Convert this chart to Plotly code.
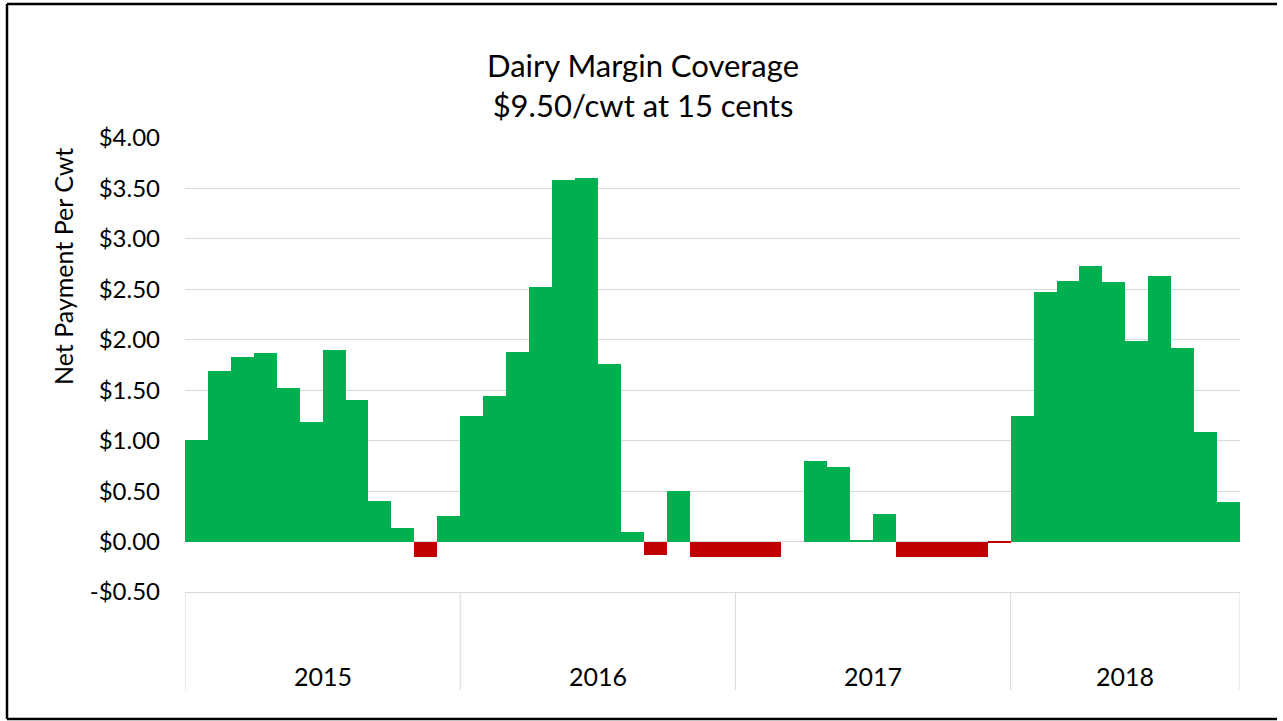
import plotly.graph_objects as go

# ---- data ----
years = ["2015", "2016", "2017", "2018"]
months_per_year = [12, 12, 12, 10]
net_payment = [
    1.01, 1.69, 1.83, 1.87, 1.52, 1.19, 1.90, 1.40, 0.40, 0.13, -0.15, 0.25,   # 2015
    1.24, 1.44, 1.88, 2.52, 3.58, 3.60, 1.76, 0.09, -0.13, 0.50, -0.15, -0.15,  # 2016
    -0.15, -0.15, 0.00, 0.80, 0.74, 0.02, 0.27, -0.15, -0.15, -0.15, -0.15, -0.01,  # 2017
    1.24, 2.47, 2.58, 2.73, 2.57, 1.99, 2.63, 1.92, 1.09, 0.39,  # 2018
]
y_tickvals = [-0.5, 0.0, 0.5, 1.0, 1.5, 2.0, 2.5, 3.0, 3.5, 4.0]
y_ticktext = ["-$0.50", "$0.00", "$0.50", "$1.00", "$1.50", "$2.00",
              "$2.50", "$3.00", "$3.50", "$4.00"]

# ---- style ----
GREEN = "#00B050"
RED = "#C00000"
FONT = "Lato, 'Noto Sans', sans-serif"
W, H = 1283, 721
L, R, T, B = 185, 43, 138, 129
plot_w = W - L - R
plot_h = H - T - B

x_idx = list(range(len(net_payment)))
colors = [GREEN if v >= 0 else RED for v in net_payment]

fig = go.Figure()
fig.add_trace(go.Bar(
    x=x_idx, y=net_payment, width=1.0,
    marker=dict(color=colors, line=dict(width=0)),
    hovertemplate="%{y:$.2f}<extra></extra>",
))

# year boundaries / centers derived from months_per_year
bounds = [-0.5]
for n in months_per_year:
    bounds.append(bounds[-1] + n)
centers = [(bounds[i] + bounds[i + 1]) / 2 for i in range(len(years))]

def py(pix):
    return (H - B - pix) / plot_h

def px(pix):
    return (pix - L) / plot_w

shapes = []
for b in bounds:
    shapes.append(dict(type="line", xref="x", yref="paper", x0=b, x1=b,
                       y0=0, y1=py(690), line=dict(color="#d9d9d9", width=1)))
# outer chart frame (left, top, bottom edges; right edge lies outside the image)
frame = dict(color="black", width=2.5)
shapes += [
    dict(type="line", xref="paper", yref="paper", x0=px(7), x1=px(7),
         y0=py(719), y1=py(4), line=frame, layer="above"),
    dict(type="line", xref="paper", yref="paper", x0=px(7), x1=px(1277),
         y0=py(4), y1=py(4), line=frame, layer="above"),
    dict(type="line", xref="paper", yref="paper", x0=px(7), x1=px(1277),
         y0=py(719), y1=py(719), line=frame, layer="above"),
]

annotations = []
for yr, c in zip(years, centers):
    annotations.append(dict(x=c, y=py(676), xref="x", yref="paper", text=yr,
                            showarrow=False, yanchor="middle",
                            font=dict(family=FONT, size=25, color="#000")))
# y-axis title (placed like the original, above the plot's vertical centre)
annotations.append(dict(x=px(63), y=py(267), xref="paper", yref="paper",
                        text="Net Payment Per Cwt", textangle=-90,
                        showarrow=False, xanchor="center", yanchor="middle",
                        font=dict(family=FONT, size=25, color="#000")))

fig.update_layout(
    width=W, height=H,
    margin=dict(l=L, r=R, t=T, b=B, pad=0),
    paper_bgcolor="white", plot_bgcolor="white",
    bargap=0, showlegend=False,
    title=dict(text="Dairy Margin Coverage<br>$9.50/cwt at 15 cents",
               xref="container", x=643 / W, xanchor="center",
               yref="container", y=1 - 77 / H, yanchor="middle",
               font=dict(family=FONT, size=31, color="#000")),
    xaxis=dict(range=[-0.5, len(net_payment) - 0.5], showticklabels=False,
               showgrid=False, zeroline=False, showline=True,
               linecolor="#d9d9d9", linewidth=1, ticks="", fixedrange=True),
    yaxis=dict(range=[-0.5, 4.0], tickvals=y_tickvals, ticktext=y_ticktext,
               showgrid=True, gridcolor="#d9d9d9", gridwidth=1,
               zeroline=True, zerolinecolor="#d9d9d9", zerolinewidth=1,
               showline=False, ticks="", ticklabelstandoff=24,
               tickfont=dict(family=FONT, size=24, color="#000")),
    shapes=shapes, annotations=annotations,
)

fig.write_html("out.html", config={"displayModeBar": False},
               post_script="document.body.style.margin='0px';document.body.style.padding='0px';document.body.style.overflow='hidden';")
